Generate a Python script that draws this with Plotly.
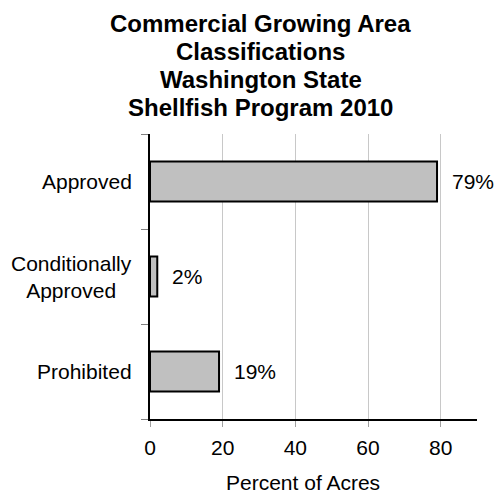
import plotly.graph_objects as go

# Growing area classifications, share of commercial acres (%)
categories = ["Approved", "Conditionally<br>Approved", "Prohibited"]
percent_of_acres = [79, 2, 19]
title_lines = [
    "Commercial Growing Area",
    "Classifications",
    "Washington State",
    "Shellfish Program 2010",
]
x_tick_values = [0, 20, 40, 60, 80]
x_axis_title = "Percent of Acres"

FONT = "Liberation Sans, Arial, sans-serif"
W, H = 497, 493
M_L, M_R, M_T, M_B = 150, 20, 134, 74
plot_w = W - M_L - M_R
plot_h = H - M_T - M_B


def px_to_paper_x(px):
    return (px - M_L) / plot_w


def px_to_paper_y(py):
    return (H - M_B - py) / plot_h


fig = go.Figure(
    go.Bar(
        x=percent_of_acres,
        y=categories,
        orientation="h",
        marker=dict(color="#c0c0c0", line=dict(color="black", width=2)),
        hoverinfo="skip",
    )
)

annotations = []
# value labels to the right of each bar
for cat, v in zip(categories, percent_of_acres):
    annotations.append(dict(
        x=v, y=cat, xref="x", yref="y", text=f"{v}%", showarrow=False,
        xanchor="left", yanchor="middle", xshift=13,
        font=dict(family=FONT, size=21, color="black"),
    ))

# category labels, centre-aligned when they wrap onto two lines
for cat in categories:
    annotations.append(dict(
        x=px_to_paper_x(134), y=cat, xref="paper", yref="y", text=cat,
        showarrow=False, xanchor="right", yanchor="middle", align="center",
        font=dict(family=FONT, size=21, color="black"),
    ))

# multi-line bold title, one annotation per line for tight line spacing
title_centers_px = [23.8, 51.7, 79.6, 107.5]
for line, cy in zip(title_lines, title_centers_px):
    annotations.append(dict(
        x=px_to_paper_x(260.5), y=px_to_paper_y(cy),
        xref="paper", yref="paper",
        text=f"<b>{line}</b>", showarrow=False,
        xanchor="center", yanchor="middle",
        font=dict(family=FONT, size=24, color="black"),
    ))

# x axis title
annotations.append(dict(
    x=px_to_paper_x(303), y=px_to_paper_y(482.5),
    xref="paper", yref="paper", text=x_axis_title, showarrow=False,
    xanchor="center", yanchor="middle",
    font=dict(family=FONT, size=21, color="black"),
))

fig.update_layout(
    width=W, height=H,
    margin=dict(l=M_L, r=M_R, t=M_T, b=M_B, pad=0),
    paper_bgcolor="white", plot_bgcolor="white",
    showlegend=False,
    bargap=0.58,
    font=dict(family=FONT, size=21, color="black"),
    annotations=annotations,
    xaxis=dict(
        range=[0, 90], tickvals=x_tick_values,
        showgrid=True, gridcolor="#c8c8c8", gridwidth=1,
        zeroline=False,
        showline=True, linecolor="black", linewidth=1.5,
        ticks="outside", ticklen=6, tickcolor="#a0a0a0",
        tickfont=dict(family=FONT, size=21, color="black"),
        ticklabelstandoff=3,
        fixedrange=True,
    ),
    yaxis=dict(
        categoryorder="array", categoryarray=categories[::-1],
        showgrid=False, zeroline=False,
        showline=True, linecolor="black", linewidth=1.5,
        ticks="outside", ticklen=7, tickcolor="#808080",
        tickson="boundaries",
        showticklabels=False,
        fixedrange=True,
    ),
)

fig.write_html("out.html", config={"displayModeBar": False})
